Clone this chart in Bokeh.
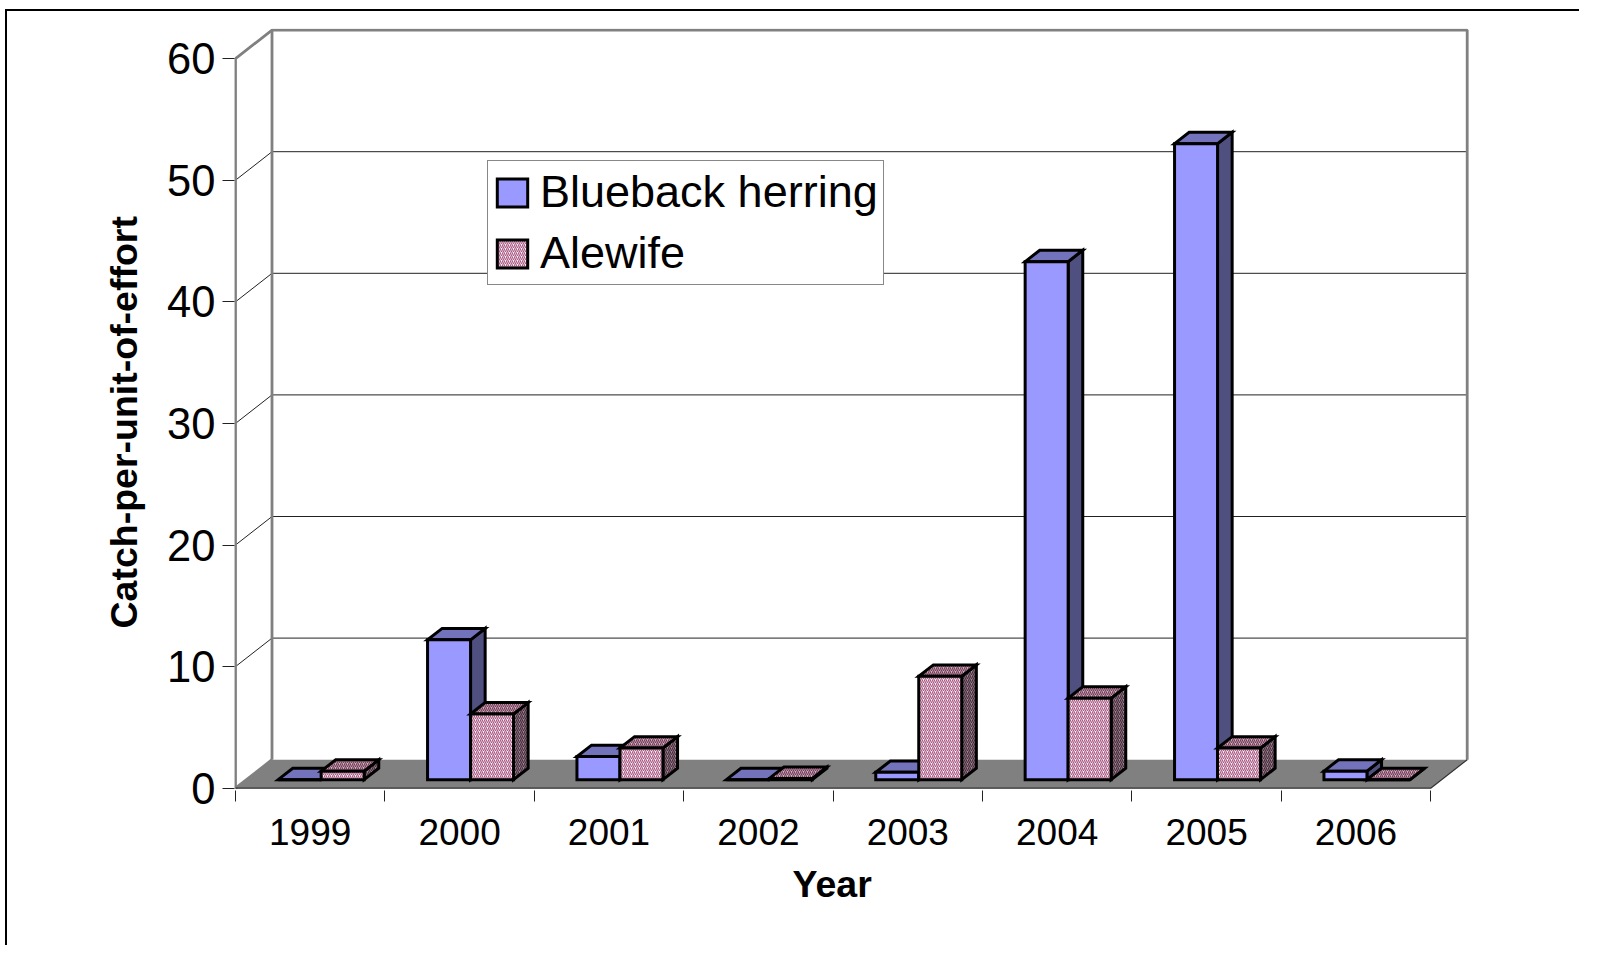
from bokeh.plotting import figure
from bokeh.models import Range1d, FixedTicker, Legend, LegendItem, Title
from bokeh.embed import file_html
from bokeh.resources import INLINE

years = ["1999", "2000", "2001", "2002", "2003", "2004", "2005", "2006"]
blueback = [0.0, 11.5, 1.9, 0.0, 0.6, 42.6, 52.3, 0.7]
alewife = [0.7, 5.4, 2.6, 0.1, 8.5, 6.7, 2.6, 0.0]
y_ticks = [0, 10, 20, 30, 40, 50, 60]

PX_X = 149.4          # pixels per category
PX_Y = 12.16          # pixels per value unit
DX = 36.5 / PX_X      # oblique depth of the 3-D box in data units
DY = 28.5 / PX_Y
BAR_W = 43 / PX_X
Z0, Z1 = 0.3, 0.7     # bar depth within the box
YMAX = max(y_ticks)
N = len(years)

LINE = "#808080"
FONT = "Liberation Sans"

p = figure(width=1574, height=936, output_backend="svg", toolbar_location=None,
           x_range=Range1d(-1 / PX_X, (1470 - 235) / PX_X),
           y_range=Range1d(-2.3 / PX_Y, (787.7 - 28) / PX_Y),
           min_border_left=227, min_border_right=111,
           min_border_top=17, min_border_bottom=157,
           background_fill_color="white", border_fill_color="white",
           outline_line_color=None,
           styles={"margin-left": "5px", "margin-top": "9px",
                   "border-left": "2px solid #000", "border-top": "2px solid #000"})
p.grid.visible = False

# walls, floor, gridlines
p.patch([0, 8, 8 + DX, DX], [0, 0, DY, DY], fill_color=LINE, line_color=None)
p.segment([0] * 5, y_ticks[1:-1], [DX] * 5, [v + DY for v in y_ticks[1:-1]], line_color="#222222", line_width=1)
p.segment([DX] * 5, [v + DY for v in y_ticks[1:-1]], [N + DX] * 5, [v + DY for v in y_ticks[1:-1]],
          line_color="#222222", line_width=1)
p.multi_line([[0, 0, DX, N + DX, N + DX], [DX, DX], [0, DX]],
             [[0, YMAX, YMAX + DY, YMAX + DY, DY], [DY, YMAX + DY], [0, DY]],
             line_color=LINE, line_width=2.8)
p.line([0, N, N + DX], [0, 0, DY], line_color="#333333", line_width=1.2)


def draw(values, offset, front, top, side, hatch):
    left = [i + 0.5 + offset * BAR_W for i in range(N)]
    right = [v + BAR_W for v in left]
    dx0, dy0 = Z0 * DX, Z0 * DY
    dx1, dy1 = Z1 * DX, Z1 * DY
    kw = dict(line_color="black", line_width=3, line_join="miter")
    hk = lambda c: dict(hatch_pattern="right_diagonal_line", hatch_color=c, hatch_scale=4, hatch_weight=1.2) if hatch else {}
    side_x = [[r + dx0, r + dx1, r + dx1, r + dx0] for r in right]
    side_y = [[dy0, dy1, v + dy1, v + dy0] for v in values]
    p.patches(side_x, side_y, fill_color=side, **kw, **hk("#4a2a3c"))
    top_x = [[l + dx0, r + dx0, r + dx1, l + dx1] for l, r in zip(left, right)]
    top_y = [[v + dy0, v + dy0, v + dy1, v + dy1] for v in values]
    p.patches(top_x, top_y, fill_color=top, **kw, **hk("#7a3a5a"))
    return p.quad(left=[l + dx0 for l in left], right=[r + dx0 for r in right],
                  bottom=[dy0] * N, top=[v + dy0 for v in values],
                  fill_color=front, **kw, **hk("#a85c85"))


r_blue = draw(blueback, -1, "#9999ff", "#7373bb", "#4f4f80", False)
r_pink = draw(alewife, 0, "#fbf0f5", "#c8b8c0", "#9a8a92", True)

# axes
ya = p.yaxis[0]
ya.ticker = FixedTicker(ticks=y_ticks)
ya.axis_line_color = None
ya.major_tick_in = 0
ya.major_tick_out = 12
ya.major_tick_line_color = "#222222"
ya.minor_tick_line_color = None
ya.major_label_standoff = 7
ya.major_label_text_font = FONT
ya.major_label_text_font_size = "43.5px"
ya.major_label_text_color = "black"

xa = p.xaxis[0]
xa.ticker = FixedTicker(ticks=[i + 0.5 for i in range(N)], minor_ticks=list(range(N + 1)))
xa.major_label_overrides = {i + 0.5: y for i, y in enumerate(years)}
xa.axis_line_color = None
xa.major_tick_line_color = None
xa.major_tick_in = 0
xa.major_tick_out = 0
xa.minor_tick_in = 0
xa.minor_tick_out = 11
xa.minor_tick_line_color = "#222222"
xa.major_label_standoff = 17
xa.major_label_text_font = FONT
xa.major_label_text_font_size = "37px"
xa.major_label_text_color = "black"

# axis titles, positioned along the axes (not the frame, which includes the depth)
p.add_layout(Title(text="Year", align="left", offset=558, standoff=27,
                   text_font=FONT, text_font_size="37.5px", text_font_style="bold", text_color="black"), "below")
p.add_layout(Title(text="Catch-per-unit-of-effort", align="left", offset=162, standoff=39,
                   text_font=FONT, text_font_size="37.5px", text_font_style="bold", text_color="black"), "left")

legend = Legend(items=[LegendItem(label="Blueback herring", renderers=[r_blue]),
                       LegendItem(label="Alewife", renderers=[r_pink])],
                location=(487 - 234, 790 - 285), orientation="vertical",
                glyph_width=38, glyph_height=35, label_standoff=9, padding=5, spacing=9,
                margin=0, label_text_font=FONT, label_text_font_size="45px", label_text_color="black",
                background_fill_color="white", background_fill_alpha=1,
                border_line_color="#111111", border_line_width=1.5)
p.add_layout(legend, "center")

open("out.html", "w").write(file_html(p, INLINE))
